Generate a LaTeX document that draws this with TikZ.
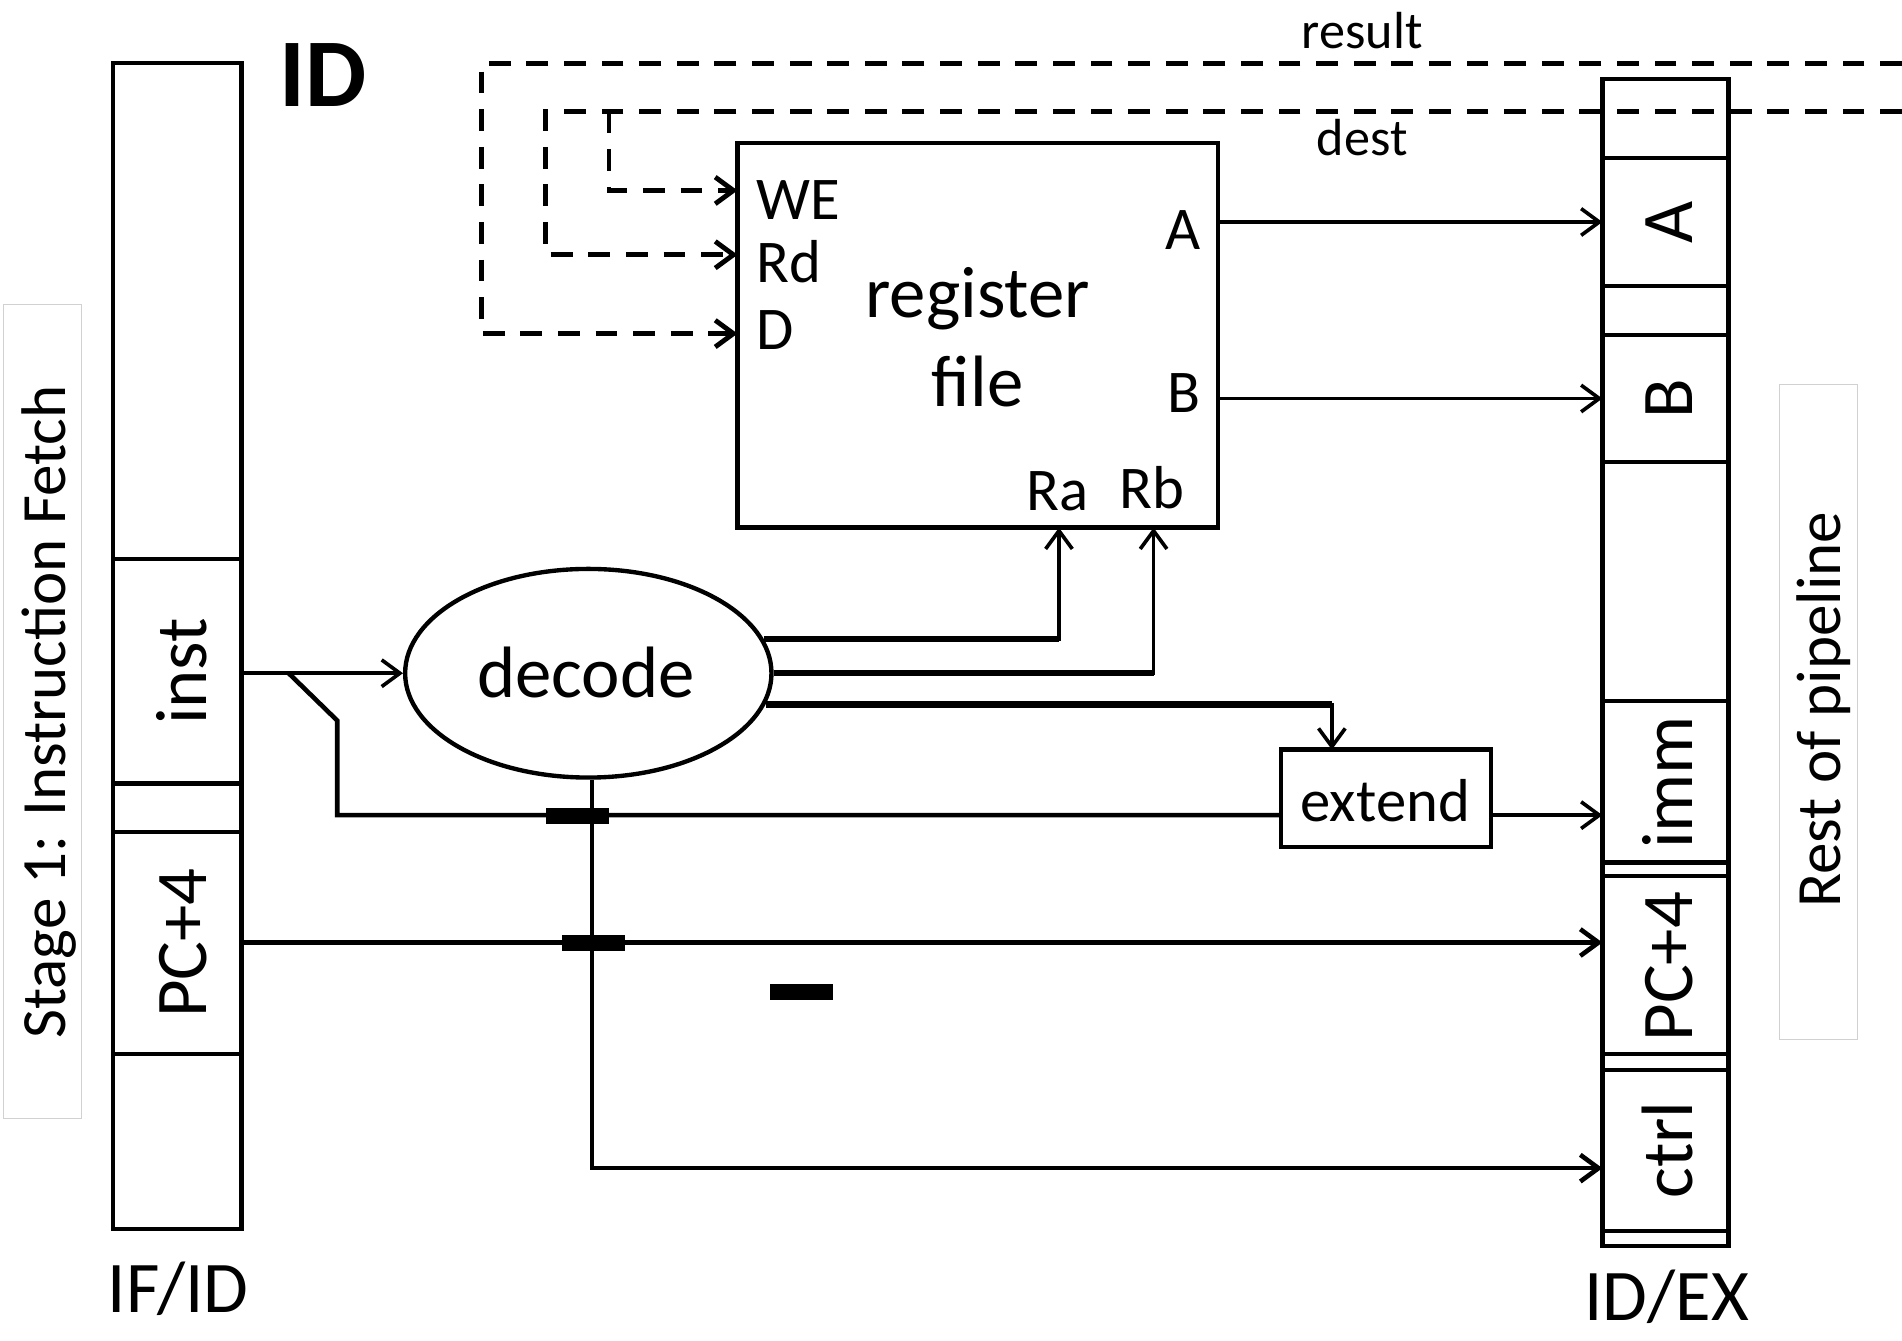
\documentclass[tikz,border=0pt]{standalone}
\usepackage{fontspec}
\setmainfont{Carlito}
\usetikzlibrary{arrows.meta,shapes.geometric,calc}
\begin{document}
\begin{tikzpicture}[x=0.5pt,y=-0.5pt,
  box/.style={draw, line width=1.8pt, inner sep=0pt, outer sep=0pt},
  wire/.style={line width=1.5pt},
  wmid/.style={line width=1.9pt},
  wthick/.style={line width=2.6pt},
  arr/.style={-{Straight Barb[length=7.5pt,width=11pt]}},
  fbline/.style={line width=2pt, dash pattern=on 9pt off 6.5pt},
  bar/.style={fill=black, inner sep=0pt, outer sep=0pt, minimum width=26pt, minimum height=6.5pt},
  big/.style={font=\fontsize{30}{36}\selectfont, inner sep=0pt},
  port/.style={font=\fontsize{25}{30}\selectfont, inner sep=0pt},
  small/.style={font=\fontsize{21.5}{26}\selectfont, inner sep=0pt},
  side/.style={font=\fontsize{26}{31}\selectfont, inner sep=0pt},
  graybox/.style={draw=black!18, line width=0.5pt, inner sep=0pt}
]
\useasboundingbox (0,0) rectangle (1568,1105);

% side boxes
\node[graybox, minimum width=32pt, minimum height=335.5pt] (ifbox) at (35,586.5) {};
\node[side, rotate=90, anchor=base] (iflabel) at (54,587) {Stage 1: Instruction Fetch};
\node[graybox, minimum width=32pt, minimum height=270pt] (restbox) at (1499,587) {};
\node[side, rotate=90, anchor=base] (restlabel) at (1517,585) {Rest of pipeline};

% title
\node[font=\fontsize{40}{48}\selectfont\bfseries, inner sep=0pt, anchor=base] (idlbl) at (266,88) {ID};

% IF/ID register
\node[box, minimum width=53pt, minimum height=480.5pt] (ifid) at (146,532.5) {};
\node[box, minimum width=53pt, minimum height=92.5pt] (inst) at (146,553.5) {};
\node[box, minimum width=53pt, minimum height=91.5pt] (pcf) at (146,777.5) {};
\node[big, rotate=90, anchor=base] (instlbl) at (170,553.5) {inst};
\node[big, rotate=90, anchor=base] (pcflbl) at (170,777.5) {PC+4};
\node[big, anchor=base] (ifidlbl) at (147,1082) {IF/ID};

% ID/EX register
\node[box, minimum width=52pt, minimum height=481pt] (idex) at (1373,546) {};
\node[box, minimum width=52pt, minimum height=53pt] (regA) at (1373,183) {};
\node[box, minimum width=52pt, minimum height=52.5pt] (regB) at (1373,328.5) {};
\node[box, minimum width=52pt, minimum height=66.5pt] (imm) at (1373,644.5) {};
\node[box, minimum width=52pt, minimum height=73.5pt] (pcx) at (1373,795.5) {};
\node[box, minimum width=52pt, minimum height=66.5pt] (ctrl) at (1373,948.5) {};
\node[big, rotate=90, anchor=base] (regAlbl) at (1395,183) {A};
\node[big, rotate=90, anchor=base] (regBlbl) at (1395,328.5) {B};
\node[big, rotate=90, anchor=base] (immlbl) at (1395,645) {imm};
\node[big, rotate=90, anchor=base] (pcxlbl) at (1395,797) {PC+4};
\node[big, rotate=90, anchor=base] (ctrllbl) at (1395,948) {ctrl};
\node[big, anchor=base] (idexlbl) at (1374,1089) {ID/EX};

% register file
\node[box, minimum width=198pt, minimum height=158.5pt] (rf) at (806,276.5) {};
\node[port, anchor=base west] (weL) at (623,181) {WE};
\node[port, anchor=base west] (rdL) at (623,233) {Rd};
\node[port, anchor=base west] (dL) at (623,288) {D};
\node[port, anchor=base east] (aL) at (990,206) {A};
\node[port, anchor=base east] (bL) at (990,340) {B};
\node[port, anchor=base] (raL) at (872,421) {Ra};
\node[port, anchor=base] (rbL) at (950,419) {Rb};
\node[big, anchor=base] (rfl1) at (806,262) {register};
\node[big, anchor=base] (rfl2) at (806,335) {file};

% decode
\node[draw, ellipse, line width=1.8pt, minimum width=151pt, minimum height=86pt, inner sep=0pt] (decode) at (485,555) {};
\node[big, anchor=base] (decodelbl) at (483,575) {decode};

% extend
\node[box, minimum width=86.5pt, minimum height=40pt] (extend) at (1142.5,658) {};
\node[port, anchor=base] (extendlbl) at (1142,677) {extend};

% ports
\coordinate (weIn) at (608,157);
\coordinate (rdIn) at (608,210);
\coordinate (dIn) at (608,275);
\coordinate (raP) at (873,435);
\coordinate (rbP) at (951,435);
\coordinate (extP) at (1098,618);
\coordinate (immIn) at (1321,672);
\coordinate (pcIn) at (1321,777);
\coordinate (ctrlIn) at (1321,963);
\coordinate (resEnd) at (1568,52);
\coordinate (destEnd) at (1568,92);
\coordinate (dCorner) at (397,275);
\coordinate (rdCorner) at (450,210);
\coordinate (weTap) at (502,92);
\coordinate (tap) at (238,555);
\coordinate (kink) at (278,594);
\coordinate (dsouth) at ($(decode.south)+(3,0)$);

% feedback (dashed)
\draw[fbline, arr] (resEnd) -| (dCorner) -- (dIn);
\draw[fbline, arr] (destEnd) -| (rdCorner) -- (rdIn);
\draw[fbline, arr] (weTap) |- (weIn);
\node[small, anchor=base] (resultlbl) at (1123,40) {result};
\node[small, anchor=base] (destlbl) at (1123,128) {dest};

% register file outputs
\draw[wire, arr] (rf.east |- regA.west) -- (regA.west);
\draw[wire, arr] (rf.east |- regB.west) -- (regB.west);

% instruction into decode
\draw[wire, arr] (inst.east |- decode.west) -- (decode.west);
\draw[wmid] (tap) -- (kink) |- (extend.west |- immIn);
\draw[wire, arr] (extend.east |- immIn) -- (immIn);

% decode outputs
\draw[wire, arr] (decode.11) -| (raP);
\draw[wthick] (decode.11) -- (decode.11 -| raP);
\draw[wire, arr] (decode.east) -| (rbP);
\draw[wthick] (decode.east) -- (decode.east -| rbP);
\draw[wire, arr] (decode.-10) -| (extP);
\draw[wthick] (decode.-10) -- (decode.-10 -| extP);
\draw[wmid, arr] (dsouth) |- (ctrlIn);

% PC+4
\draw[wmid, arr] (pcf.east |- pcIn) -- (pcIn);

% bars
\node[bar] (bar1) at (476,672.5) {};
\node[bar] (bar2) at (489.5,777.5) {};
\node[bar] (bar3) at (661,817.5) {};
\end{tikzpicture}
\end{document}
